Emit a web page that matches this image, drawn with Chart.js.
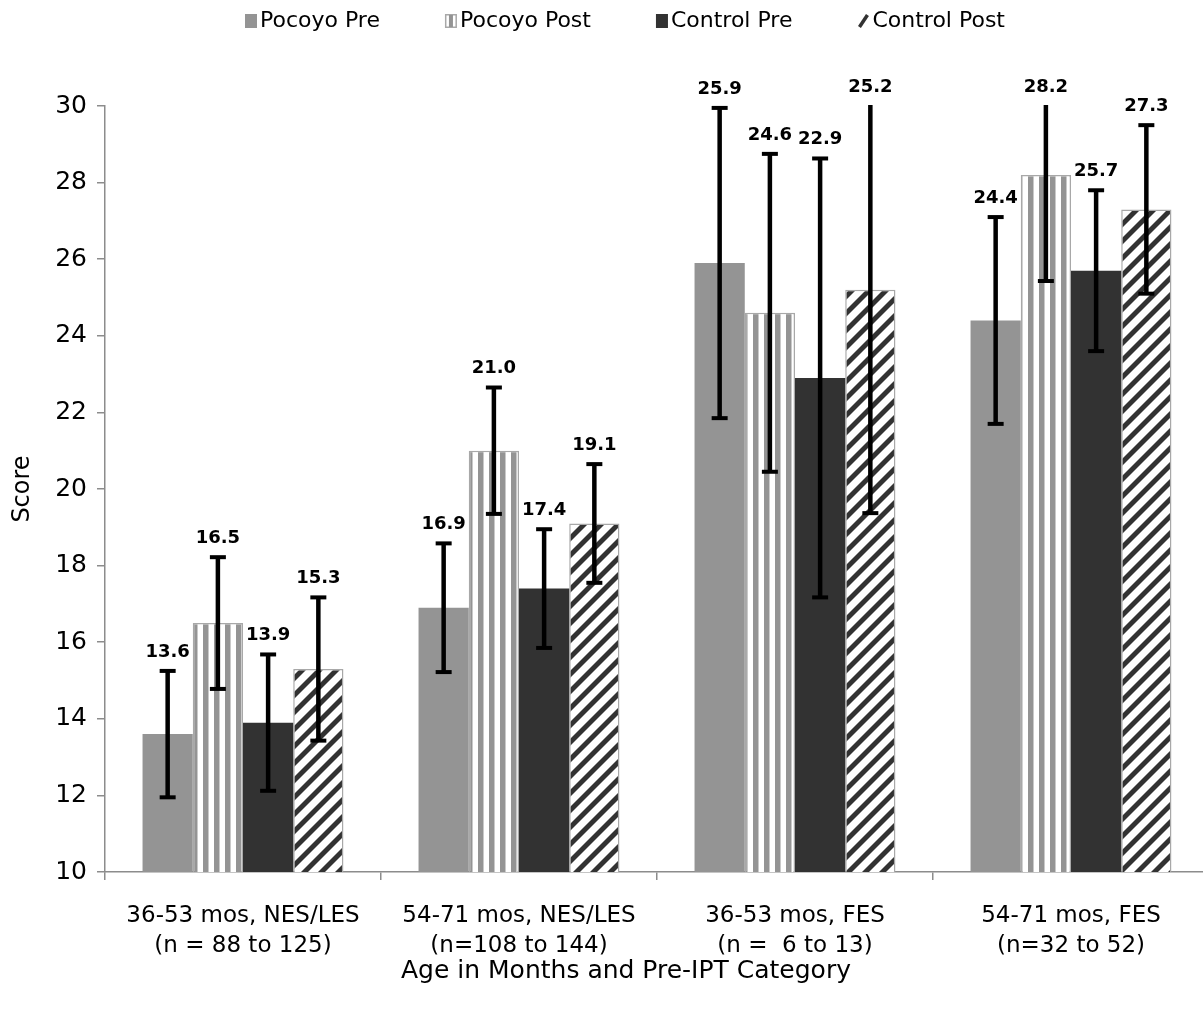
<!DOCTYPE html>
<html><head><meta charset="utf-8">
<script src="https://cdn.jsdelivr.net/npm/chart.js@4/dist/chart.umd.min.js"></script>
<style>html,body{margin:0;padding:0;background:#fff;overflow:hidden;width:1203px;height:1011px}#wrap{width:1209px;height:1011px;position:relative}</style>
</head><body><div id="wrap"><canvas id="c"></canvas></div>
<script>
// ---- data ----
const categories = [
  ['36-53 mos, NES/LES', '(n = 88 to 125)'],
  ['54-71 mos, NES/LES', '(n=108 to 144)'],
  ['36-53 mos, FES', '(n =  6 to 13)'],
  ['54-71 mos, FES', '(n=32 to 52)']
];
const seriesNames = ['Pocoyo Pre', 'Pocoyo Post', 'Control Pre', 'Control Post'];
const pocoyoPre   = [13.6, 16.9, 25.9, 24.4];
const pocoyoPost  = [16.5, 21.0, 24.6, 28.2];
const controlPre  = [13.9, 17.4, 22.9, 25.7];
const controlPost = [15.3, 19.1, 25.2, 27.3];
// symmetric error bar half-widths
const pocoyoPreErr   = [1.65, 1.68, 4.05, 2.70];
const pocoyoPostErr  = [1.72, 1.65, 4.15, 2.77];
const controlPreErr  = [1.78, 1.55, 5.73, 2.10];
const controlPostErr = [1.87, 1.55, 5.83, 2.20];
const yMin = 10, yMax = 30, yStep = 2;
const xTitle = 'Age in Months and Pre-IPT Category';
const yTitle = 'Score';

// ---- styles ----
const FONT = "'DejaVu Sans', sans-serif";
const GRAY = '#949494', DARK = '#323232', AXIS = '#8c8c8c', BORDER = '#a8a8a8';

function vStripes() {
  const c = document.createElement('canvas'); c.width = 11; c.height = 11;
  const g = c.getContext('2d');
  g.fillStyle = '#fff'; g.fillRect(0, 0, 11, 11);
  g.fillStyle = GRAY; g.fillRect(5, 0, 5.5, 11);
  return g.createPattern(c, 'repeat');
}
function dStripes() {
  const p = 17, w = 7;
  const c = document.createElement('canvas'); c.width = p; c.height = p;
  const g = c.getContext('2d');
  g.fillStyle = '#fff'; g.fillRect(0, 0, p, p);
  g.fillStyle = DARK;
  for (let k = -1; k <= 1; k++) {
    const o = k * p;
    g.beginPath();
    g.moveTo(o, p); g.lineTo(o + w, p); g.lineTo(o + w + p, 0); g.lineTo(o + p, 0);
    g.closePath(); g.fill();
  }
  return g.createPattern(c, 'repeat');
}

const values = [pocoyoPre, pocoyoPost, controlPre, controlPost];
const errors = [pocoyoPreErr, pocoyoPostErr, controlPreErr, controlPostErr];
const fills = [GRAY, vStripes(), DARK, dStripes()];
const borders = [0, 1.5, 0, 1.5];

const datasets = seriesNames.map((name, i) => ({
  label: name,
  data: values[i],
  backgroundColor: fills[i],
  borderColor: BORDER,
  borderWidth: borders[i],
  borderSkipped: 'bottom',
  categoryPercentage: 0.728,
  barPercentage: 1.0
}));

const errorBarPlugin = {
  id: 'errorBars',
  afterDatasetsDraw(chart) {
    const ctx = chart.ctx, area = chart.chartArea, y = chart.scales.y;
    ctx.save();
    ctx.beginPath(); ctx.rect(area.left, area.top - 1, area.right - area.left, area.bottom - area.top + 1); ctx.clip();
    ctx.strokeStyle = '#000'; ctx.lineCap = 'butt';
    chart.data.datasets.forEach((ds, i) => {
      const meta = chart.getDatasetMeta(i);
      meta.data.forEach((bar, j) => {
        const v = ds.data[j], e = errors[i][j];
        const top = y.getPixelForValue(v + e), bot = y.getPixelForValue(v - e);
        ctx.lineWidth = 4.5;
        ctx.beginPath(); ctx.moveTo(bar.x, top); ctx.lineTo(bar.x, bot); ctx.stroke();
        ctx.lineWidth = 4;
        ctx.beginPath(); ctx.moveTo(bar.x - 8, top); ctx.lineTo(bar.x + 8, top); ctx.stroke();
        ctx.beginPath(); ctx.moveTo(bar.x - 8, bot); ctx.lineTo(bar.x + 8, bot); ctx.stroke();
      });
    });
    ctx.restore();
    // value labels above the error bars
    ctx.save();
    ctx.fillStyle = '#000'; ctx.font = 'bold 18px ' + FONT;
    ctx.textAlign = 'center'; ctx.textBaseline = 'middle';
    chart.data.datasets.forEach((ds, i) => {
      const meta = chart.getDatasetMeta(i);
      meta.data.forEach((bar, j) => {
        const v = ds.data[j], e = errors[i][j];
        const top = Math.max(area.top, y.getPixelForValue(v + e));
        ctx.fillText(v.toFixed(1), bar.x, top - 19);
      });
    });
    ctx.restore();
  }
};

const legendPlugin = {
  id: 'topLegendAndTitle',
  afterDraw(chart) {
    const ctx = chart.ctx;
    ctx.save();
    ctx.font = '22px ' + FONT;
    ctx.textBaseline = 'middle'; ctx.textAlign = 'left'; ctx.fillStyle = '#000';
    const widths = seriesNames.map(n => ctx.measureText(n).width);
    const start = 245, end = 1005, box = 15;
    const sum = widths.reduce((a, b) => a + b, 0);
    const gap = (end - start - 4 * box - sum) / 3;
    let x = start; const cy = 21;
    seriesNames.forEach((n, i) => {
      if (i === 0 || i === 2) {
        ctx.fillStyle = i === 0 ? GRAY : DARK;
        ctx.fillRect(x, cy - 7, 12, 14);
      } else if (i === 1) {
        ctx.fillStyle = '#fff'; ctx.fillRect(x, cy - 7, 12, 14);
        ctx.strokeStyle = BORDER; ctx.lineWidth = 1.5; ctx.strokeRect(x + 0.75, cy - 6.25, 10.5, 12.5);
        ctx.fillStyle = GRAY; ctx.fillRect(x + 4, cy - 6, 4, 12);
      } else {
        ctx.strokeStyle = DARK; ctx.lineWidth = 3.5;
        ctx.beginPath(); ctx.moveTo(x + 2, cy + 6); ctx.lineTo(x + 10, cy - 6); ctx.stroke();
      }
      ctx.fillStyle = '#000';
      ctx.fillText(n, x + box, cy);
      x += box + widths[i] + gap;
    });
    // x-axis title (centred on the whole original chart, as in the reference)
    ctx.font = '25px ' + FONT; ctx.textAlign = 'center';
    ctx.fillText(xTitle, 626, 971);
    ctx.restore();
  }
};

new Chart(document.getElementById('c'), {
  type: 'bar',
  data: { labels: categories, datasets },
  plugins: [errorBarPlugin, legendPlugin],
  options: {
    responsive: true, maintainAspectRatio: false, animation: false,
    devicePixelRatio: 1,
    layout: { padding: { top: 106, right: 0, left: 0, bottom: 0 } },
    plugins: { legend: { display: false }, tooltip: { enabled: false } },
    scales: {
      x: {
        grid: { offset: true, drawOnChartArea: false, tickLength: 8, color: AXIS, lineWidth: 1.5 },
        border: { color: AXIS, width: 1.5 },
        ticks: { color: '#000', font: { family: FONT, size: 23, lineHeight: 1.3 }, padding: 21, maxRotation: 0, autoSkip: false },
        title: { display: false, text: xTitle },
        afterFit(s) { s.height = 139; }
      },
      y: {
        min: yMin, max: yMax,
        grid: { drawOnChartArea: false, tickLength: 8, color: AXIS, lineWidth: 1.5 },
        border: { color: AXIS, width: 1.5 },
        ticks: { stepSize: yStep, color: '#000', font: { family: FONT, size: 25 }, padding: 10 },
        title: { display: true, text: yTitle, color: '#000', font: { family: FONT, size: 24 }, padding: { top: 8 } },
        afterFit(s) { s.width = 105; }
      }
    }
  }
});
</script></body></html>
